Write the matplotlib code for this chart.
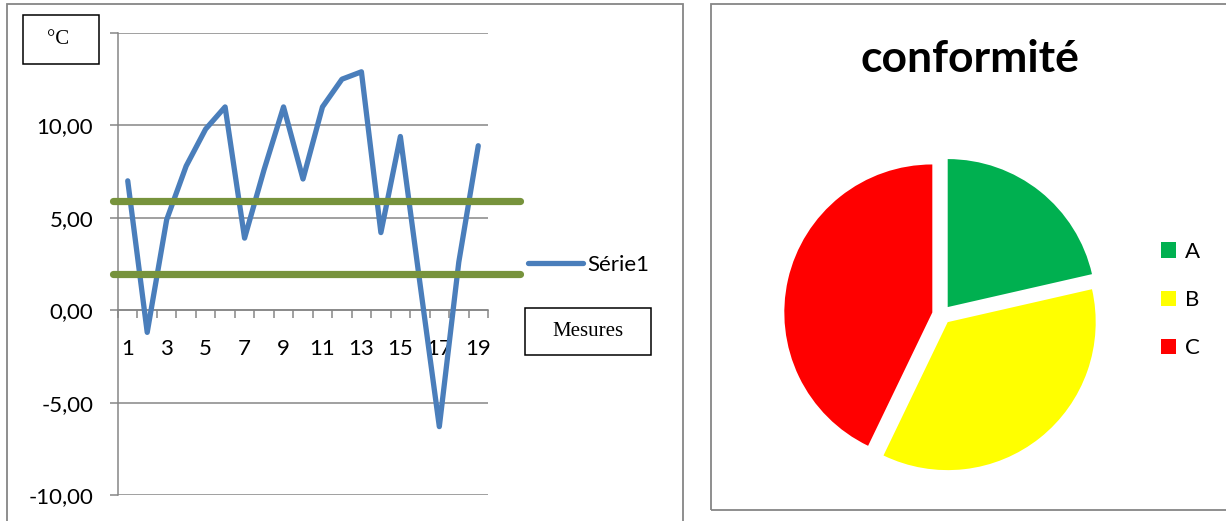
import numpy as np
import matplotlib.pyplot as plt
from matplotlib.patches import Rectangle

plt.rcParams['font.family'] = ['Lato', 'DejaVu Sans']

# line chart data
mesures = np.arange(1, 20)
temperatures = [7.0, -1.2, 4.9, 7.8, 9.8, 11.0, 3.9, 7.6, 11.0, 7.1,
                11.0, 12.5, 12.9, 4.2, 9.4, 1.5, -6.3, 2.6, 8.9]
serie_nom = 'Série1'
limite_haute = 5.9
limite_basse = 1.95
y_ticks = [-10, -5, 0, 5, 10, 15]
x_labels = [1, 3, 5, 7, 9, 11, 13, 15, 17, 19]

# pie data
categories = ['A', 'B', 'C']
conformite = [3, 5, 6]
couleurs = ['#00B050', '#FFFF00', '#FF0000']

W, H = 1226, 521
GRIS = '#868686'
fig = plt.figure(figsize=(W / 100, H / 100), dpi=100)


def box(x0, y0, x1, y1):
    # pixel rectangle (top-left origin) -> figure fraction [l, b, w, h]
    return [x0 / W, 1 - y1 / H, (x1 - x0) / W, (y1 - y0) / H]


def rect(x0, y0, x1, y1, **kw):
    l, b, w, h = box(x0, y0, x1, y1)
    fig.add_artist(Rectangle((l, b), w, h, transform=fig.transFigure, **kw))


# panel frames
rect(7, 4, 683, 540, fill=False, ec=GRIS, lw=1.3)
rect(711, 4, 1240, 510, fill=False, ec=GRIS, lw=1.3)

# ---- line chart ----
ax = fig.add_axes(box(118, 33, 488, 495))
ax.set_xlim(0.5, 19.5)
ax.set_ylim(-10, 15)
ax.plot(mesures, temperatures, color='#4A7EBB', lw=3.8,
        solid_capstyle='round', solid_joinstyle='round', label=serie_nom, zorder=3)
for lim in (limite_haute, limite_basse):
    ax.plot([-0.014, 1.087], [lim, lim], transform=ax.get_yaxis_transform(),
            color='#77933C', lw=5.2, solid_capstyle='round', clip_on=False, zorder=4)

ax.set_yticks(y_ticks)
ax.set_yticklabels(['' if v == 15 else f'{v:.2f}'.replace('.', ',') for v in y_ticks])
ax.grid(axis='y', color=GRIS, lw=1.1)
ax.set_axisbelow(True)
for s in ('top', 'right'):
    ax.spines[s].set_visible(False)
ax.spines['left'].set_color(GRIS)
ax.spines['left'].set_linewidth(1.1)
ax.spines['bottom'].set_position(('data', 0))
ax.spines['bottom'].set_color(GRIS)
ax.spines['bottom'].set_linewidth(1.1)
ax.tick_params(axis='y', length=5.8, width=1.1, color=GRIS, pad=12, labelsize=16)
ax.set_xticks(x_labels)
ax.set_xticks(np.arange(0.5, 20, 1), minor=True)
ax.tick_params(axis='x', which='major', length=0, pad=21, labelsize=16)
ax.tick_params(axis='x', which='minor', length=5.8, width=1.1, color=GRIS)

ax.legend(loc='center left', bbox_to_anchor=(528 / W, 1 - 265 / H),
          bbox_transform=fig.transFigure, frameon=False, borderpad=0,
          borderaxespad=0, handlelength=2.48, handletextpad=0.2, fontsize=16)

# text boxes
rect(23, 15, 99, 64, fill=True, fc='white', ec='black', lw=1.1, zorder=5)
fig.text(58 / W, 1 - 39 / H, '°C', family='Liberation Serif', fontsize=15,
         ha='center', va='center', zorder=6)
rect(525, 308, 651, 355, fill=True, fc='white', ec='black', lw=1.1, zorder=5)
fig.text(588 / W, 1 - 332 / H, 'Mesures', family='Liberation Serif', fontsize=15,
         ha='center', va='center', zorder=6)

# ---- pie chart ----
fig.text(970 / W, 1 - 72 / H, 'conformité', fontsize=32, fontweight='bold',
         ha='center', va='baseline')
ax2 = fig.add_axes(box(771.5, 144.4, 1111.9, 484.8))
wedges, _ = ax2.pie(conformite, colors=couleurs, startangle=90, counterclock=False,
                    explode=[0.065] * 3, radius=1)
ax2.set_xlim(-1.15, 1.15)
ax2.set_ylim(-1.15, 1.15)
ax2.set_aspect('equal')
ax2.axis('off')
ax2.legend(wedges, categories, loc='center left',
           bbox_to_anchor=(1161 / W, 1 - 300 / H), bbox_transform=fig.transFigure,
           frameon=False, borderpad=0, borderaxespad=0, fontsize=16,
           handlelength=0.68, handleheight=0.68, handletextpad=0.41, labelspacing=1.27)

plt.savefig('out.png', dpi=100)
